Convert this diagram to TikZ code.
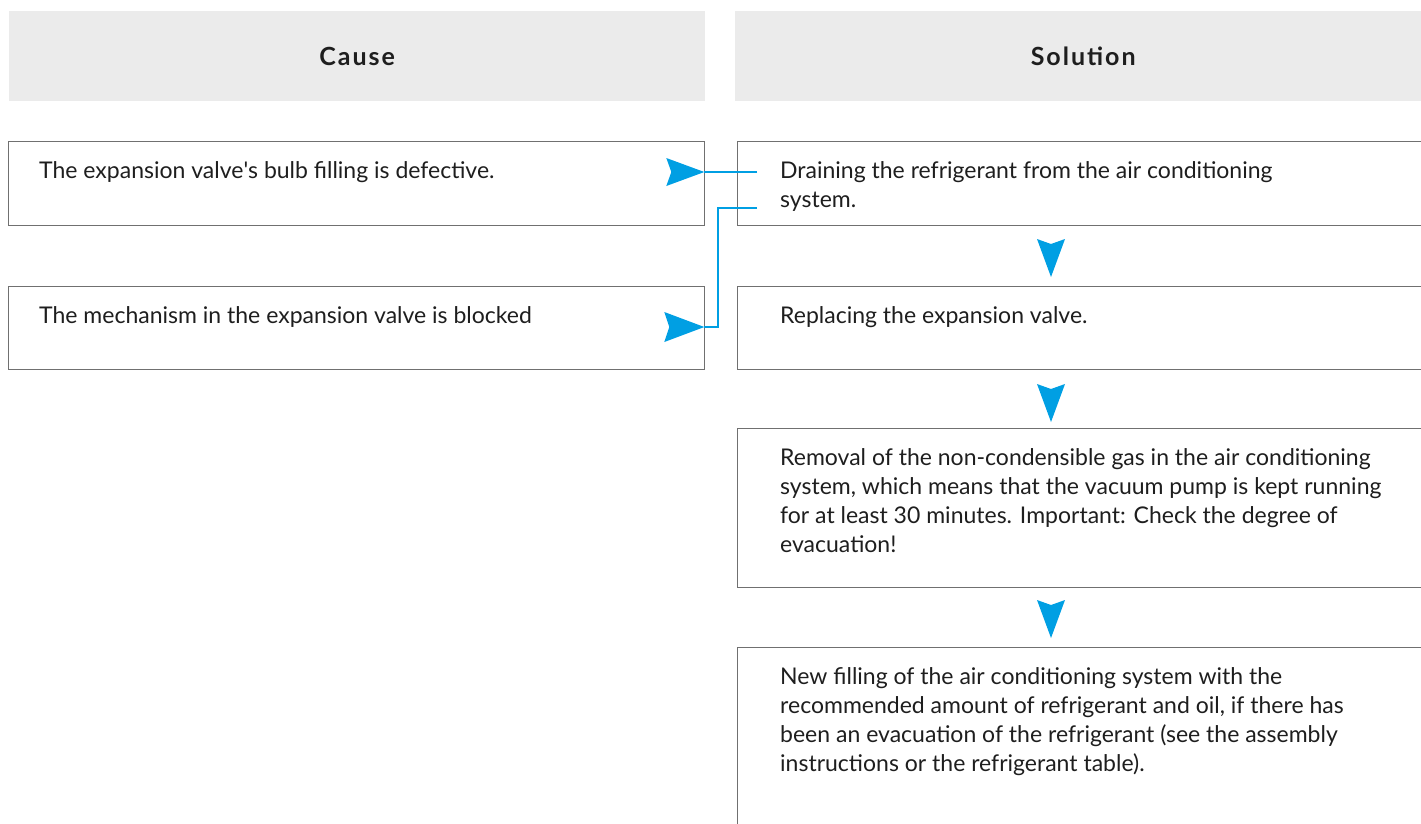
\documentclass[tikz,border=0pt]{standalone}
\usepackage{fontspec}
\setmainfont{Lato}
\usetikzlibrary{calc}
\definecolor{hdr}{HTML}{EBEBEB}
\definecolor{framec}{HTML}{707070}
\definecolor{arrowblue}{HTML}{009FE3}
\definecolor{txtc}{HTML}{1E1E1E}
\begin{document}
\begin{tikzpicture}[x=1pt,y=-1pt,
  hdrbox/.style={fill=hdr, draw=none, minimum width=696, minimum height=90, anchor=north west, inner sep=0, font=\fontsize{25}{30}\selectfont\bfseries\addfontfeature{LetterSpace=8}, text=txtc},
  box/.style={draw=framec, line width=1.3, minimum width=696, anchor=north west, inner sep=0},
  txt/.style={anchor=base west, inner sep=0, font=\fontsize{23}{29}\selectfont, text=txtc},
  conn/.style={draw=arrowblue, line width=2.6},
  head/.style={fill=arrowblue, draw=none}]
\useasboundingbox (0,0) rectangle (1421,823);
\clip (0,0) rectangle (1421,823);
% headers
\node[hdrbox] (hc) at (9,11) {Cause};
\node[hdrbox] (hs) at (735,11) {Solution};
% boxes
\node[box, minimum height=84] (c1) at (8,141) {};
\node[box, minimum height=83] (c2) at (8,286) {};
\node[box, minimum height=84] (s1) at (737,141) {};
\node[box, minimum height=83] (s2) at (737,286) {};
\node[box, minimum height=159] (s3) at (737,428) {};
\node[box, minimum height=220] (s4) at (737,647) {};
% texts
\node[txt] (c1t) at ($(c1.north west)+(31,37)$) {The expansion valve\textquotesingle s bulb filling is defective.};
\node[txt] (c2t) at ($(c2.north west)+(31,37)$) {The mechanism in the expansion valve is blocked};
\node[txt] (s1t) at ($(s1.north west)+(43,37)$) {\begin{tabular}[t]{@{}l@{}}Draining the refrigerant from the air conditioning\\system.\end{tabular}};
\node[txt] (s2t) at ($(s2.north west)+(43,37)$) {Replacing the expansion valve.};
\node[txt] (s3t) at ($(s3.north west)+(43,37)$) {\begin{tabular}[t]{@{}l@{}}Removal of the non-condensible gas in the air conditioning\\system, which means that the vacuum pump is kept running\\for at least 30 minutes. Important: Check the degree of\\evacuation!\end{tabular}};
\node[txt] (s4t) at ($(s4.north west)+(43,37)$) {\begin{tabular}[t]{@{}l@{}}New filling of the air conditioning system with the\\recommended amount of refrigerant and oil, if there has\\been an evacuation of the refrigerant (see the assembly\\instructions or the refrigerant table).\end{tabular}};
% connectors
\coordinate (a1) at ($(s1.north west)+(20,31)$);
\coordinate (a2) at ($(s1.north west)+(20,67)$);
\coordinate (e1) at ($(c1.north east)+(-1,31)$);
\coordinate (e2) at ($(c2.north east)+(-1,41)$);
\draw[conn] (a1) -- (e1);
\draw[conn] (a2) -- ++(-39,0) |- (e2);
% arrow heads on connectors
\fill[head] (e1) -- ++(-38,-14) -- ++(5,14) -- ++(-5,14) -- cycle;
\fill[head] (e2) -- ++(-40,-15) -- ++(5,15) -- ++(-5,15) -- cycle;
% down arrow heads
\fill[head] ($(s2.north west)+(314,-9)$) -- ++(-14,-38) -- ++(14,5) -- ++(14,-5) -- cycle;
\fill[head] ($(s3.north west)+(314,-6)$) -- ++(-14,-38) -- ++(14,5) -- ++(14,-5) -- cycle;
\fill[head] ($(s4.north west)+(314,-9)$) -- ++(-14,-38) -- ++(14,5) -- ++(14,-5) -- cycle;
\end{tikzpicture}
\end{document}
